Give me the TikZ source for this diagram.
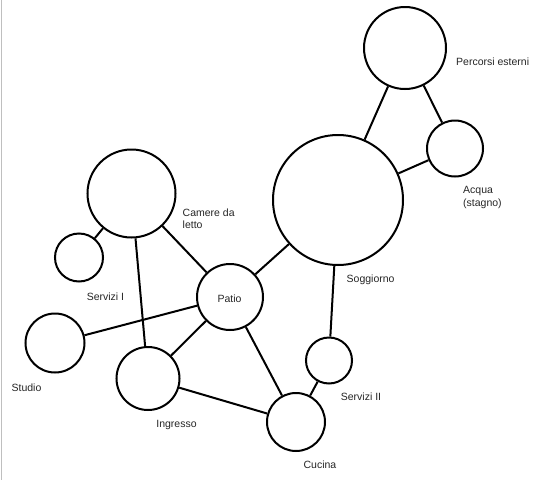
\documentclass[tikz,border=0pt]{standalone}
\usepackage{fontspec}
\setmainfont{Liberation Sans}
\begin{document}
\begin{tikzpicture}[x=1pt,y=-1pt,
  room/.style={circle,draw=black,line width=2pt,inner sep=0pt,fill=white},
  link/.style={draw=black,line width=2pt},
  lbl/.style={inner sep=0pt,text=black!85,font=\fontsize{10.5}{12.3}\selectfont,text height=7.6pt,text depth=0pt},
  lbl2/.style={inner sep=0pt,text=black!85,font=\fontsize{10.5}{12.3}\selectfont,align=left}]
\useasboundingbox (0,0) rectangle (547,480);
\fill[white] (0,0) rectangle (547,480);
\draw[black!25,line width=1pt] (1.5,0) -- (1.5,480);
% rooms
\node[room,minimum size=82pt] (perc) at (405,48) {};
\node[room,minimum size=56pt] (acqua) at (455,148.5) {};
\node[room,minimum size=130pt] (sogg) at (338,200) {};
\node[room,minimum size=88pt] (camere) at (131.5,193.5) {};
\node[room,minimum size=48pt] (serv1) at (79,257.5) {};
\node[room,minimum size=66pt] (patio) at (230,297) {};
\node[room,minimum size=59pt] (studio) at (55,343) {};
\node[room,minimum size=63pt] (ingr) at (148,378.5) {};
\node[room,minimum size=58pt] (cucina) at (296,422) {};
\node[room,minimum size=46pt] (serv2) at (329,360.5) {};
% connectors
\path[link] (perc) -- (sogg);
\path[link] (perc) -- (acqua);
\path[link] (sogg) -- (acqua);
\path[link] (sogg) -- (patio);
\path[link] (sogg) -- (serv2);
\path[link] (serv2) -- (cucina);
\path[link] (camere) -- (serv1);
\path[link] (camere) -- (patio);
\path[link] (camere) -- (ingr);
\path[link] (studio) -- (patio);
\path[link] (patio) -- (ingr);
\path[link] (patio) -- (cucina);
\path[link] (ingr) -- (cucina);
% labels
\node[lbl,anchor=west] (lperc) at (456,62) {Percorsi esterni};
\node[lbl2,anchor=west] (lacqua) at (463,197.5) {Acqua\\(stagno)};
\node[lbl2,anchor=west] (lcamere) at (182.5,218.5) {Camere da\\letto};
\node[lbl,anchor=west] (lsogg) at (346.5,279) {Soggiorno};
\node[lbl] (lserv1) at (105.5,296.5) {Servizi I};
\node[lbl] (lpatio) at (229.5,299) {Patio};
\node[lbl] (lstudio) at (26.5,387.5) {Studio};
\node[lbl] (lingr) at (176.5,424) {Ingresso};
\node[lbl] (lserv2) at (361,397) {Servizi II};
\node[lbl] (lcucina) at (320,465) {Cucina};
\end{tikzpicture}
\end{document}
